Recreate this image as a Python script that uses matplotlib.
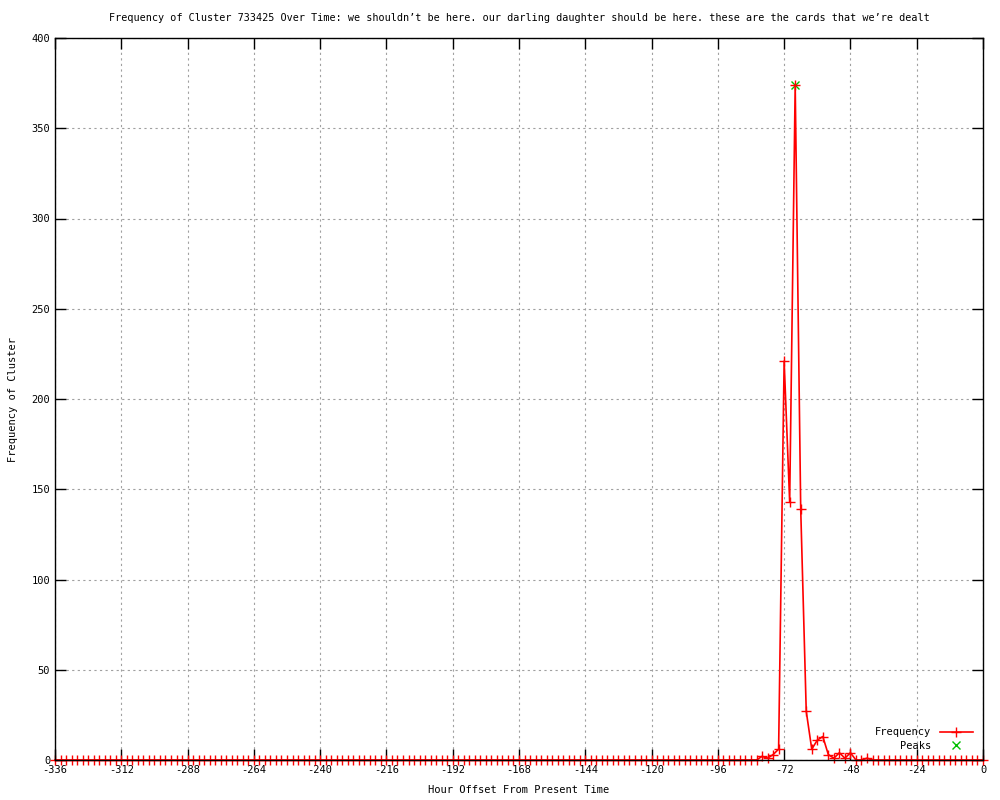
import numpy as np
import matplotlib
matplotlib.use('Agg')
from matplotlib import pyplot as plt

# hours from -336 to 0, one point every 2 hours
hours = np.arange(-336, 1, 2)

# values (all zero outside -82..-40)
zeros_before = [0] * 127
peak_part = [0, 2, 1, 3, 6, 221, 143, 374, 139, 27, 6, 11, 13, 3, 1, 4, 1, 4, 0, 0, 1, 0]
zeros_after = [0] * 20
freq = zeros_before + peak_part + zeros_after

peak_hours = [-68]
peak_values = [374]

title = ('Frequency of Cluster 733425 Over Time: we shouldn\u2019t be here. '
         'our darling daughter should be here. these are the cards that we\u2019re dealt')

plt.rcParams['font.family'] = ['DejaVu Sans Mono']
plt.rcParams['font.size'] = 7.3
plt.rcParams['axes.unicode_minus'] = False

fig = plt.figure(figsize=(10, 8), dpi=100)
ax = fig.add_axes([0.055, 0.05, 0.928, 0.9025])

ax.plot(hours, freq, color='red', linewidth=1.2, marker='+', markersize=7,
        markeredgewidth=1.0, label='Frequency', zorder=3, clip_on=False)
ax.plot(peak_hours, peak_values, linestyle='none', marker='x', color='#00c000',
        markersize=6, markeredgewidth=1.0, label='Peaks', zorder=2)

ax.set_xlim(-336, 0)
ax.set_ylim(0, 400)
ax.set_xticks(range(-336, 1, 24))
ax.set_yticks(range(0, 401, 50))
ax.tick_params(direction='in', length=8, width=1, top=True, right=True, labelsize=7.5)
ax.grid(True, color='#a0a0a0', linestyle=(0, (2, 3)), linewidth=0.8)

for s in ax.spines.values():
    s.set_linewidth(1)
    s.set_zorder(4)

ax.set_title(title, fontsize=7.3, pad=12)
ax.set_xlabel('Hour Offset From Present Time', fontsize=7.5, labelpad=7)
ax.set_ylabel('Frequency of Cluster', fontsize=7.5)
ax.yaxis.set_label_coords(-0.040, 0.5)

ax.legend(loc='lower right', frameon=False, markerfirst=False, fontsize=7.5,
          handlelength=3.2, borderaxespad=0.3, labelspacing=0.3,
          bbox_to_anchor=(0.997, 0.003))

plt.savefig('out.png', dpi=100)
